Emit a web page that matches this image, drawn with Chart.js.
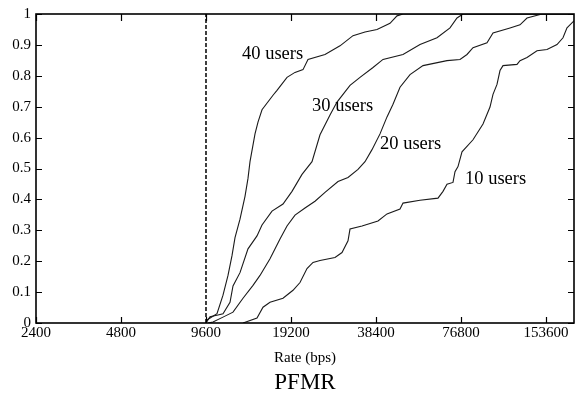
<!DOCTYPE html>
<html>
<head>
<meta charset="utf-8">
<script src="https://cdn.jsdelivr.net/npm/chart.js@4.4.0/dist/chart.umd.min.js"></script>
<style>
  body { margin: 0; background: #fff; }
  #wrap { width: 575px; height: 397px; position: relative; }
</style>
</head>
<body>
<div id="wrap"><canvas id="cdfChart"></canvas></div>
<script>
// axis ticks
const xTicks = [2400, 4800, 9600, 19200, 38400, 76800, 153600];
const yTicks = [0, 0.1, 0.2, 0.3, 0.4, 0.5, 0.6, 0.7, 0.8, 0.9, 1];
const yTickLabels = ['0', '0.1', '0.2', '0.3', '0.4', '0.5', '0.6', '0.7', '0.8', '0.9', '1'];
const xMin = 2400;
const xMax = 193000;
const thresholdRate = 9600;

// CDF curves, [rate, fraction]
const users40 = [
    [9600, 0], [9679, 0.01], [10501, 0.03], [11028, 0.09], [11487, 0.154], [11867, 0.218],
    [12162, 0.276], [12667, 0.336], [13195, 0.41], [13521, 0.468], [13744, 0.522], [14316, 0.612],
    [14670, 0.65], [15157, 0.69], [16579, 0.737], [17129, 0.753], [18585, 0.795], [19837, 0.811],
    [21174, 0.82], [22055, 0.853], [25336, 0.869], [28633, 0.897], [31834, 0.93], [35107, 0.942],
    [38717, 0.95], [43047, 0.97], [45580, 0.994], [47861, 1], [193000, 1]
];
const users30 = [
    [9600, 0], [9918, 0.02], [10587, 0.026], [11028, 0.03], [11676, 0.067], [11965, 0.12],
    [12667, 0.163], [13521, 0.24], [14551, 0.282], [15157, 0.317], [16445, 0.362], [17988, 0.385],
    [19358, 0.426], [21003, 0.481], [22788, 0.522], [24324, 0.609], [26390, 0.673], [27940, 0.715],
    [31065, 0.769], [33703, 0.795], [37474, 0.827], [40658, 0.853], [47861, 0.869], [54979, 0.901],
    [63149, 0.923], [70212, 0.955], [74336, 0.987], [78065, 1], [193000, 1]
];
const users20 = [
    [9758, 0], [10164, 0.003], [11028, 0.019], [11965, 0.035], [12981, 0.08], [14084, 0.122],
    [14911, 0.154], [16179, 0.208], [17553, 0.272], [18585, 0.314], [19837, 0.349], [21523, 0.372],
    [23352, 0.394], [25336, 0.423], [28169, 0.458], [30562, 0.471], [33159, 0.497], [35107, 0.522],
    [37170, 0.561], [39676, 0.612], [42006, 0.667], [44113, 0.708], [46704, 0.763], [50673, 0.804],
    [56341, 0.833], [68515, 0.849], [76178, 0.853], [80654, 0.869], [84699, 0.891], [94941, 0.907],
    [99700, 0.939], [114526, 0.955], [124255, 0.965], [131553, 0.987], [148670, 1], [193000, 1]
];
const users10 = [
    [12981, 0], [14551, 0.016], [15281, 0.051], [16179, 0.067], [17988, 0.08], [19517, 0.106],
    [20663, 0.131], [21877, 0.176], [22974, 0.196], [24324, 0.202], [27488, 0.212], [29103, 0.228],
    [30562, 0.266], [31065, 0.304], [34259, 0.314], [39034, 0.33], [42006, 0.353], [46704, 0.369],
    [47861, 0.388], [54979, 0.397], [63666, 0.404], [66317, 0.426], [68515, 0.449], [71951, 0.455],
    [73133, 0.49], [74944, 0.506], [77430, 0.554], [84699, 0.593], [91894, 0.644], [97292, 0.699],
    [99700, 0.74], [103006, 0.772], [105557, 0.817], [108171, 0.833], [121253, 0.837], [124255, 0.849],
    [131553, 0.859], [142730, 0.881], [154855, 0.885], [168014, 0.901], [176438, 0.923], [182287, 0.955],
    [193000, 0.978]
];

const seriesNames = ['40 users', '30 users', '20 users', '10 users'];
const seriesData = [users40, users30, users20, users10];
// where each curve label sits (left edge, vertical middle), in data units
const labelAnchors = [[12876, 0.869], [22788, 0.702], [39676, 0.58], [79350, 0.465]];
const captionText = 'PFMR';

const serif = 'Liberation Serif';

// frame, inward tick marks, curve labels and caption
const frameTicks = {
    id: 'frameTicks',
    afterDatasetsDraw(chart) {
        const { ctx, chartArea: a, scales: { x, y } } = chart;
        ctx.save();
        ctx.strokeStyle = '#000';
        ctx.lineWidth = 1.6;
        ctx.strokeRect(a.left, a.top, a.right - a.left, a.bottom - a.top);

        ctx.lineWidth = 1.2;
        ctx.beginPath();
        xTicks.forEach(v => {
            const px = Math.round(x.getPixelForValue(v)) + 0.5;
            ctx.moveTo(px, a.bottom);
            ctx.lineTo(px, a.bottom - 6);
            ctx.moveTo(px, a.top);
            ctx.lineTo(px, a.top + 7);
        });
        yTicks.forEach(v => {
            const py = Math.round(y.getPixelForValue(v)) + 0.5;
            ctx.moveTo(a.left, py);
            ctx.lineTo(a.left + 6, py);
            ctx.moveTo(a.right, py);
            ctx.lineTo(a.right - 6, py);
        });
        ctx.stroke();

        ctx.fillStyle = '#000';
        ctx.font = '18.5px "' + serif + '"';
        ctx.textAlign = 'left';
        ctx.textBaseline = 'middle';
        seriesNames.forEach((name, i) => {
            const [lx, ly] = labelAnchors[i];
            ctx.fillText(name, x.getPixelForValue(lx), y.getPixelForValue(ly));
        });

        // caption under the axis title, centred on the plot
        ctx.font = '23px "' + serif + '"';
        ctx.textAlign = 'center';
        ctx.fillText(captionText, (a.left + a.right) / 2, 383);
        ctx.restore();
    }
};

const datasets = seriesData.map((pts, i) => ({
    label: seriesNames[i],
    data: pts.map(p => ({ x: p[0], y: p[1] })),
    borderColor: '#1a1a1a',
    borderWidth: 1.1,
    pointRadius: 0,
    tension: 0,
    fill: false
}));

// dashed threshold line at 9600 bps
datasets.push({
    label: 'threshold',
    data: [{ x: thresholdRate, y: 0 }, { x: thresholdRate, y: 1 }],
    borderColor: '#000',
    borderWidth: 1.5,
    borderDash: [4, 2],
    pointRadius: 0,
    fill: false
});

new Chart(document.getElementById('cdfChart'), {
    type: 'line',
    data: { datasets: datasets },
    options: {
        responsive: true,
        maintainAspectRatio: false,
        animation: false,
        layout: { padding: { top: 11, right: 1, left: 0, bottom: 0 } },
        plugins: {
            legend: { display: false },
            tooltip: { enabled: false },
            title: { display: false }
        },
        scales: {
            x: {
                type: 'logarithmic',
                min: xMin,
                max: xMax,
                afterBuildTicks: scale => { scale.ticks = xTicks.map(v => ({ value: v })); },
                afterFit: scale => { scale.height = 74; },
                ticks: {
                    autoSkip: false,
                    maxRotation: 0,
                    padding: 1,
                    color: '#000',
                    font: { family: serif, size: 15 },
                    callback: value => String(value)
                },
                grid: { display: false, drawTicks: false },
                border: { display: false },
                title: {
                    display: true,
                    text: 'Rate (bps)',
                    color: '#000',
                    font: { family: serif, size: 15 },
                    padding: { top: 0, bottom: 30 }
                }
            },
            y: {
                min: 0,
                max: 1,
                afterBuildTicks: scale => { scale.ticks = yTicks.map(v => ({ value: v })); },
                afterFit: scale => { scale.width = 36; },
                ticks: {
                    padding: 5,
                    color: '#000',
                    font: { family: serif, size: 15 },
                    callback: (value, index) => yTickLabels[index]
                },
                grid: { display: false, drawTicks: false },
                border: { display: false }
            }
        }
    },
    plugins: [frameTicks]
});
</script>
</body>
</html>
